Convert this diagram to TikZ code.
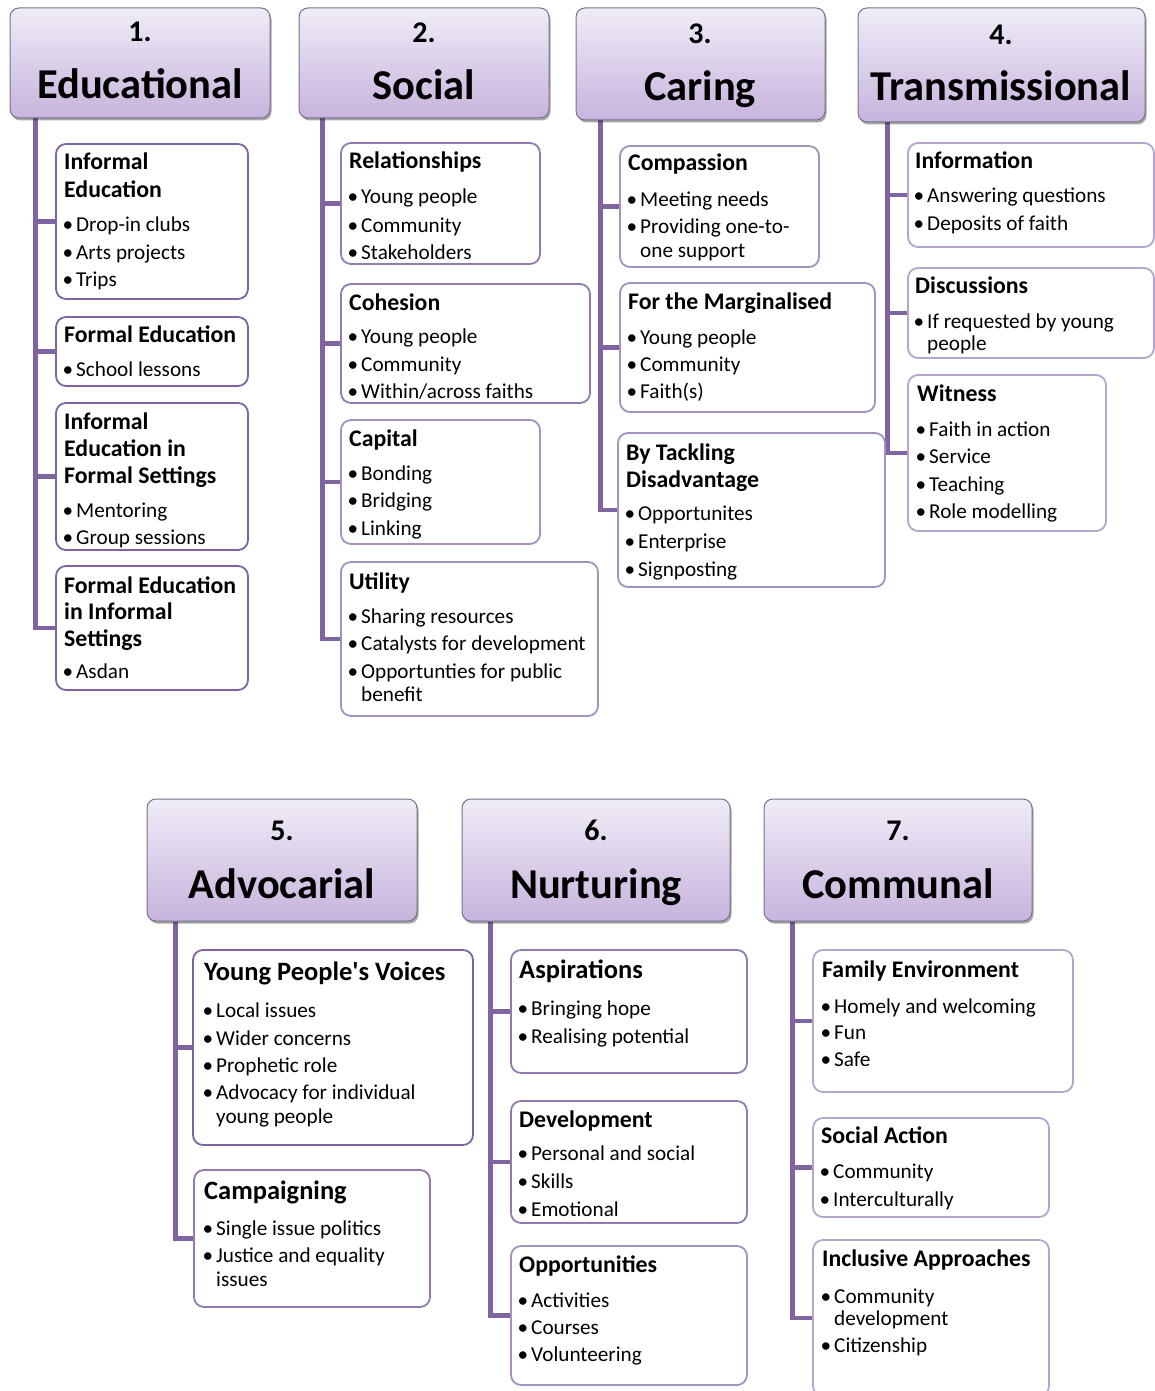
\documentclass[tikz,border=0pt]{standalone}
\usepackage{fontspec}
\setmainfont{Carlito}[Ligatures=TeXOff]
\usetikzlibrary{fit,shadows,backgrounds}
\definecolor{connc}{RGB}{128,100,162}
\definecolor{hdrborder}{RGB}{120,112,140}
\definecolor{hdrtop}{RGB}{240,236,247}
\definecolor{hdrbot}{RGB}{198,180,221}
\definecolor{bcA}{RGB}{128,100,162}
\definecolor{bcB}{RGB}{146,122,178}
\definecolor{bcC}{RGB}{163,145,192}
\definecolor{bcD}{RGB}{180,165,206}
\newcounter{tlc}
\newcommand\ttl[3]{\stepcounter{tlc}\node[ttlf,anchor=base west] (t\arabic{tlc}) at (#1+8,#2) {#3};}
\newcommand\ttlb[3]{\stepcounter{tlc}\node[ttlf,font=\fontsize{26.5}{29}\selectfont\bfseries,anchor=base west] (t\arabic{tlc}) at (#1+8,#2) {#3};}
\newcommand\bul[3]{\stepcounter{tlc}\node[bulf,anchor=base] (d\arabic{tlc}) at (#1+12,#2) {•};\node[bulf,anchor=base west] (t\arabic{tlc}) at (#1+20,#2) {#3};}
\newcommand\cnt[3]{\stepcounter{tlc}\node[bulf,anchor=base west] (t\arabic{tlc}) at (#1+20,#2) {#3};}
\begin{document}
\begin{tikzpicture}[x=1pt,y=-1pt,
  hdr/.style={draw=hdrborder, line width=1pt, rounded corners=9pt, top color=hdrtop, bottom color=hdrbot,
     drop shadow={shadow xshift=1.5pt, shadow yshift=-2.5pt, opacity=0.35, fill=black}, inner sep=0pt},
  cbox/.style={draw=#1, line width=1.8pt, fill=white, rounded corners=10pt, inner sep=0pt},
  conn/.style={draw=connc, line width=4.5pt},
  hnum/.style={anchor=base, inner sep=0pt, font=\fontsize{30}{33}\selectfont\bfseries},
  htit/.style={anchor=base, inner sep=0pt, font=\fontsize{42.5}{46}\selectfont\bfseries},
  ttlf/.style={inner sep=0pt, font=\fontsize{23.8}{27}\selectfont\bfseries},
  bulf/.style={inner sep=0pt, font=\fontsize{21.2}{24}\selectfont}]
\useasboundingbox (0,0) rectangle (1155,1391);

% ---------- headers ----------
\node[hdr, fit={(10,8)(270,118)}] (h1) {};
\node[hdr, fit={(299,8)(549,118)}] (h2) {};
\node[hdr, fit={(576,8)(825,120)}] (h3) {};
\node[hdr, fit={(858,8)(1145,122)}] (h4) {};
\node[hdr, fit={(147,799)(417,921)}] (h5) {};
\node[hdr, fit={(462,799)(730,921)}] (h6) {};
\node[hdr, fit={(764,799)(1032,921)}] (h7) {};

\node[hnum] (n1) at (140,42) {1.};   \node[htit] (m1) at (140,99) {Educational};
\node[hnum] (n2) at (424,43) {2.};   \node[htit] (m2) at (424,100) {Social};
\node[hnum] (n3) at (700,44) {3.};   \node[htit] (m3) at (700,101) {Caring};
\node[hnum] (n4) at (1001,45) {4.};  \node[htit] (m4) at (1001,101) {Transmissional};
\node[hnum] (n5) at (282,840) {5.};  \node[htit] (m5) at (282,898) {Advocarial};
\node[hnum] (n6) at (596,840) {6.};  \node[htit] (m6) at (596,898) {Nurturing};
\node[hnum] (n7) at (898,840) {7.};  \node[htit] (m7) at (898,898) {Communal};

% ---------- child boxes ----------
\node[cbox=bcA, fit={(56,144)(248,299)}] (c11) {};
\node[cbox=bcA, fit={(56,317)(248,386)}] (c12) {};
\node[cbox=bcA, fit={(56,403)(248,550)}] (c13) {};
\node[cbox=bcA, fit={(56,566)(248,690)}] (c14) {};

\node[cbox=bcB, fit={(341,143)(540,264)}] (c21) {};
\node[cbox=bcB, fit={(341,284)(590,403)}] (c22) {};
\node[cbox=bcC, fit={(341,420)(540,544)}] (c23) {};
\node[cbox=bcC, fit={(341,562)(598,716)}] (c24) {};

\node[cbox=bcC, fit={(620,146)(819,267)}] (c31) {};
\node[cbox=bcC, fit={(620,283)(875,412)}] (c32) {};
\node[cbox=bcC, fit={(618,433)(885,587)}] (c33) {};

\node[cbox=bcD, fit={(908,143)(1154,247)}] (c41) {};
\node[cbox=bcD, fit={(908,268)(1154,358)}] (c42) {};
\node[cbox=bcD, fit={(908,375)(1106,531)}] (c43) {};

\node[cbox=bcA, fit={(193,950)(473,1145)}] (c51) {};
\node[cbox=bcB, fit={(194,1170)(430,1307)}] (c52) {};

\node[cbox=bcB, fit={(511,950)(747,1073)}] (c61) {};
\node[cbox=bcB, fit={(511,1101)(747,1223)}] (c62) {};
\node[cbox=bcC, fit={(511,1246)(747,1385)}] (c63) {};

\node[cbox=bcD, fit={(813,950)(1073,1092)}] (c71) {};
\node[cbox=bcD, fit={(813,1118)(1049,1217)}] (c72) {};
\node[cbox=bcD, fit={(813,1240)(1049,1396)}] (c73) {};

% ---------- connectors ----------
\coordinate (v1) at ([xshift=26pt]h1.south west);
\coordinate (v2) at ([xshift=24pt]h2.south west);
\coordinate (v3) at ([xshift=25pt]h3.south west);
\coordinate (v4) at ([xshift=30pt]h4.south west);
\coordinate (v5) at ([xshift=29pt]h5.south west);
\coordinate (v6) at ([xshift=29pt]h6.south west);
\coordinate (v7) at ([xshift=29pt]h7.south west);
\begin{scope}[on background layer]
\foreach \c in {c11,c12,c13,c14} \draw[conn] (v1) |- (\c.west);
\foreach \c in {c21,c22,c23,c24} \draw[conn] (v2) |- (\c.west);
\foreach \c in {c31,c32,c33} \draw[conn] (v3) |- (\c.west);
\foreach \c in {c41,c42,c43} \draw[conn] (v4) |- (\c.west);
\foreach \c in {c51,c52} \draw[conn] (v5) |- (\c.west);
\foreach \c in {c61,c62,c63} \draw[conn] (v6) |- (\c.west);
\foreach \c in {c71,c72,c73} \draw[conn] (v7) |- (\c.west);
\end{scope}

% ---------- texts: column 1 ----------
\ttl{56}{170}{Informal}\ttl{56}{197}{Education}
\bul{56}{231}{Drop-in clubs}\bul{56}{259}{Arts projects}\bul{56}{286}{Trips}
\ttl{56}{342}{Formal Education}\bul{56}{376}{School lessons}
\ttl{56}{429}{Informal}\ttl{56}{456}{Education in}\ttl{56}{483}{Formal Settings}
\bul{56}{517}{Mentoring}\bul{56}{544}{Group sessions}
\ttl{56}{593}{Formal Education}\ttl{56}{619}{in Informal}\ttl{56}{646}{Settings}
\bul{56}{678}{Asdan}

% column 2
\ttl{341}{169}{Relationships}
\bul{341}{204}{Young people}\bul{341}{232}{Community}\bul{341}{259}{Stakeholders}
\ttl{341}{310}{Cohesion}
\bul{341}{343}{Young people}\bul{341}{371}{Community}\bul{341}{398}{Within/across faiths}
\ttl{341}{446}{Capital}
\bul{341}{480}{Bonding}\bul{341}{507}{Bridging}\bul{341}{535}{Linking}
\ttl{341}{589}{Utility}
\bul{341}{623}{Sharing resources}\bul{341}{650}{Catalysts for development}
\bul{341}{678}{Opportunties for public}\cnt{341}{701}{benefit}

% column 3
\ttl{620}{171}{Compassion}
\bul{620}{206}{Meeting needs}\bul{620}{233}{Providing one-to-}\cnt{620}{257}{one support}
\ttl{620}{309}{For the Marginalised}
\bul{620}{344}{Young people}\bul{620}{371}{Community}\bul{620}{398}{Faith(s)}
\ttl{618}{460}{By Tackling}\ttl{618}{487}{Disadvantage}
\bul{618}{520}{Opportunites}\bul{618}{548}{Enterprise}\bul{618}{576}{Signposting}

% column 4
\ttl{907}{169}{Information}
\bul{907}{203}{Answering questions}\bul{907}{230}{Deposits of faith}
\ttl{907}{293}{Discussions}
\bul{907}{328}{If requested by young}\cnt{907}{350}{people}
\ttl{909}{401}{Witness}
\bul{909}{436}{Faith in action}\bul{909}{463}{Service}\bul{909}{491}{Teaching}\bul{909}{518}{Role modelling}

% column 5
\ttlb{196}{980}{Young People's Voices}
\bul{196}{1017}{Local issues}\bul{196}{1045}{Wider concerns}\bul{196}{1072}{Prophetic role}
\bul{196}{1099}{Advocacy for individual}\cnt{196}{1123}{young people}
\ttlb{196}{1199}{Campaigning}
\bul{196}{1235}{Single issue politics}\bul{196}{1262}{Justice and equality}\cnt{196}{1286}{issues}

% column 6
\ttlb{511}{978}{Aspirations}
\bul{511}{1015}{Bringing hope}\bul{511}{1043}{Realising potential}
\ttl{511}{1127}{Development}
\bul{511}{1160}{Personal and social}\bul{511}{1188}{Skills}\bul{511}{1216}{Emotional}
\ttl{511}{1272}{Opportunities}
\bul{511}{1307}{Activities}\bul{511}{1334}{Courses}\bul{511}{1361}{Volunteering}

% column 7
\ttl{814}{977}{Family Environment}
\bul{814}{1013}{Homely and welcoming}\bul{814}{1039}{Fun}\bul{814}{1066}{Safe}
\ttl{813}{1143}{Social Action}
\bul{813}{1178}{Community}\bul{813}{1206}{Interculturally}
\ttl{814}{1266}{Inclusive Approaches}
\bul{814}{1303}{Community}\cnt{814}{1325}{development}\bul{814}{1352}{Citizenship}
\end{tikzpicture}
\end{document}
